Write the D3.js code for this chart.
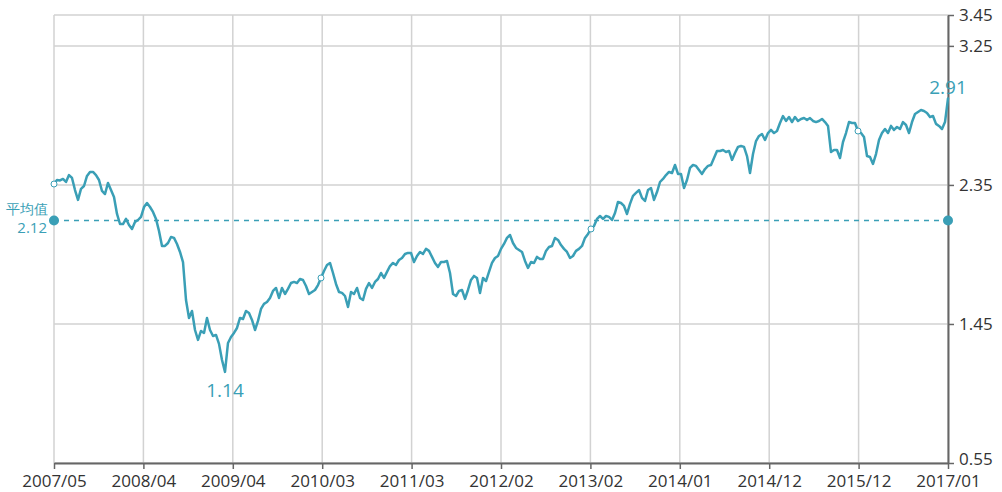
<!DOCTYPE html>
<html>
<head>
<meta charset="utf-8">
<script src="https://cdn.jsdelivr.net/npm/d3@7"></script>
<style>
  html, body { margin: 0; padding: 0; background: #fff; }
  svg { display: block; }
  text { font-family: "Open Sans", "Noto Sans", sans-serif; }
</style>
</head>
<body>
<div id="chart"></div>
<script>
const dateLabels = ["2007/05","2008/04","2009/04","2010/03","2011/03","2012/02","2013/02","2014/01","2014/12","2015/12","2017/01"];
const yTicks = [0.55, 1.45, 2.35, 3.25, 3.45];
const avgValue = 2.12;
const avgLabel = "平均值";
const values = [
2.356,2.382,2.379,2.389,2.369,2.414,2.395,2.317,2.253,2.324,
2.343,2.408,2.434,2.434,2.414,2.382,2.311,2.291,2.363,2.317,
2.272,2.162,2.097,2.097,2.130,2.091,2.065,2.110,2.123,2.143,
2.207,2.233,2.207,2.175,2.130,2.052,1.955,1.955,1.974,2.013,
2.007,1.968,1.916,1.851,1.605,1.489,1.534,1.411,1.347,1.405,
1.392,1.489,1.411,1.372,1.379,1.321,1.217,1.140,1.327,1.366,
1.392,1.424,1.489,1.482,1.534,1.521,1.476,1.411,1.470,1.547,
1.580,1.592,1.618,1.664,1.683,1.618,1.683,1.644,1.677,1.715,
1.722,1.715,1.741,1.735,1.696,1.644,1.657,1.670,1.702,1.748,
1.793,1.832,1.845,1.780,1.709,1.657,1.651,1.631,1.560,1.657,
1.644,1.683,1.618,1.605,1.677,1.715,1.683,1.722,1.741,1.780,
1.748,1.787,1.825,1.845,1.832,1.864,1.877,1.903,1.910,1.910,
1.851,1.890,1.916,1.903,1.936,1.923,1.884,1.845,1.819,1.851,
1.851,1.858,1.780,1.644,1.631,1.664,1.670,1.612,1.670,1.735,
1.761,1.748,1.651,1.748,1.728,1.787,1.845,1.877,1.890,1.936,
1.968,2.007,2.026,1.974,1.942,1.929,1.916,1.858,1.813,1.851,
1.845,1.884,1.871,1.871,1.923,1.948,1.955,2.007,1.994,1.961,
1.936,1.916,1.877,1.890,1.923,1.936,1.955,2.007,2.033,2.065,
2.084,2.130,2.149,2.130,2.149,2.143,2.123,2.168,2.240,2.233,
2.214,2.162,2.227,2.279,2.298,2.317,2.266,2.246,2.317,2.330,
2.253,2.304,2.369,2.389,2.414,2.434,2.427,2.479,2.421,2.421,
2.330,2.382,2.460,2.479,2.473,2.447,2.421,2.453,2.473,2.479,
2.524,2.570,2.570,2.576,2.563,2.570,2.512,2.557,2.596,2.602,
2.596,2.537,2.427,2.550,2.634,2.667,2.680,2.641,2.686,2.706,
2.686,2.699,2.751,2.796,2.764,2.790,2.757,2.790,2.764,2.777,
2.783,2.770,2.783,2.764,2.757,2.764,2.777,2.757,2.732,2.563,
2.576,2.576,2.524,2.628,2.686,2.757,2.751,2.751,2.699,2.686,
2.660,2.537,2.531,2.486,2.550,2.641,2.686,2.712,2.686,2.732,
2.706,2.725,2.712,2.757,2.738,2.686,2.757,2.809,2.822,2.835,
2.829,2.816,2.790,2.796,2.745,2.732,2.712,2.757,2.910
];

const W = 1002, H = 492;
const M = { left: 54, right: 54, top: 15, bottom: 29 };
const teal = "#3a9fb6";

const svg = d3.select("#chart").append("svg").attr("width", W).attr("height", H);

const x = d3.scaleLinear().domain([0, values.length - 1]).range([M.left, W - M.right]);
const y = d3.scaleLinear().domain([0.55, 3.45]).range([H - M.bottom, M.top]);

const tickIdx = dateLabels.map((d, i) => i * (values.length - 1) / (dateLabels.length - 1));

// grid
const grid = svg.append("g");
grid.selectAll("line.v").data(tickIdx).join("line")
  .attr("x1", d => x(d)).attr("x2", d => x(d))
  .attr("y1", y(3.45)).attr("y2", y(0.55))
  .attr("stroke", "#d2d2d2").attr("stroke-width", 1.5);
grid.selectAll("line.h").data(yTicks).join("line")
  .attr("x1", x(0)).attr("x2", x(values.length - 1))
  .attr("y1", d => y(d)).attr("y2", d => y(d))
  .attr("stroke", "#d2d2d2").attr("stroke-width", 1.5);

// axes
const xAxis = svg.append("g").attr("transform", `translate(0,${y(0.55)})`)
  .call(d3.axisBottom(x).tickValues(tickIdx).tickFormat((d, i) => dateLabels[i])
    .tickSize(6).tickSizeOuter(0).tickPadding(6));
const yAxis = svg.append("g").attr("transform", `translate(${x(values.length - 1)},0)`)
  .call(d3.axisRight(y).tickValues(yTicks).tickFormat(d3.format(".2f"))
    .tickSize(6).tickSizeOuter(0).tickPadding(5));
[xAxis, yAxis].forEach(g => {
  g.select(".domain").attr("stroke", "#666").attr("stroke-width", 2);
  g.selectAll(".tick line").attr("stroke", "#666").attr("stroke-width", 1.5);
  g.selectAll(".tick text").attr("fill", "#333").attr("font-size", 17)
    .attr("font-family", "'Open Sans', sans-serif");
});
// lift the lowest value label slightly so it clears the last date label
yAxis.selectAll(".tick text").filter(d => d === yTicks[0]).attr("dy", "0.1em");

// average line
svg.append("line")
  .attr("x1", x(0)).attr("x2", x(values.length - 1))
  .attr("y1", y(avgValue)).attr("y2", y(avgValue))
  .attr("stroke", teal).attr("stroke-width", 1.5).attr("stroke-dasharray", "5,5");

// series line
const line = d3.line().x((d, i) => x(i)).y(d => y(d));
svg.append("path").datum(values)
  .attr("d", line).attr("fill", "none")
  .attr("stroke", teal).attr("stroke-width", 2.5)
  .attr("stroke-linejoin", "round").attr("stroke-linecap", "round");

// hollow markers every third tick
const markIdx = [0, 3, 6, 9].map(k => Math.round(tickIdx[k]));
svg.selectAll("circle.mk").data(markIdx).join("circle")
  .attr("cx", d => x(d)).attr("cy", d => y(values[d])).attr("r", 3)
  .attr("fill", "#fff").attr("stroke", teal).attr("stroke-width", 1);

// average end dots
svg.selectAll("circle.avg").data([0, values.length - 1]).join("circle")
  .attr("cx", d => x(d)).attr("cy", y(avgValue)).attr("r", 5).attr("fill", teal);

svg.append("text").attr("x", x(0) - 6).attr("y", y(avgValue) - 6)
  .attr("text-anchor", "end").attr("fill", teal).attr("font-size", 14)
  .attr("font-family", "'Noto Sans CJK TC', 'Noto Sans CJK SC', sans-serif")
  .text(avgLabel);
svg.append("text").attr("x", x(0) - 7).attr("y", y(avgValue) + 13)
  .attr("text-anchor", "end").attr("fill", teal).attr("font-size", 15)
  .text(d3.format(".2f")(avgValue));

// min / max labels
const maxV = d3.max(values), minV = d3.min(values);
const maxI = values.indexOf(maxV), minI = values.indexOf(minV);
svg.append("text").attr("x", x(maxI)).attr("y", y(maxV) - 4)
  .attr("text-anchor", "middle").attr("fill", teal).attr("font-size", 19)
  .text(d3.format(".2f")(maxV));
svg.append("text").attr("x", x(minI)).attr("y", y(minV) + 25)
  .attr("text-anchor", "middle").attr("fill", teal).attr("font-size", 19)
  .text(d3.format(".2f")(minV));
</script>
</body>
</html>
